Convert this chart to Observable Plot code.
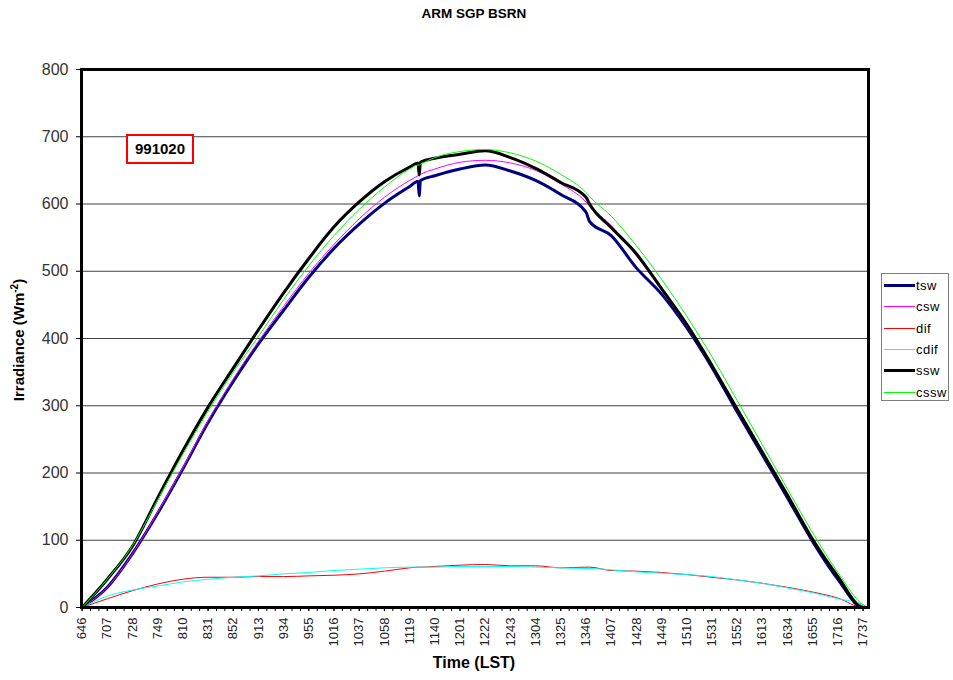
<!DOCTYPE html>
<html>
<head>
<meta charset="utf-8">
<script src="https://cdn.jsdelivr.net/npm/d3@7"></script>
<script src="https://cdn.jsdelivr.net/npm/@observablehq/plot@0.6"></script>
<style>
  html, body { margin: 0; padding: 0; background: #fff; }
  #wrap { position: relative; width: 953px; height: 680px; font-family: "Liberation Sans", Arial, sans-serif; }
  #chart svg { position: absolute; left: 0; top: 0; }
  .abs { position: absolute; }
  #title { left: 374px; width: 200px; top: 6px; text-align: center; font-weight: bold; font-size: 13.5px; color: #000; }
  #ylab { left: 18px; top: 340px; transform: translate(-50%, -50%) rotate(-90deg); white-space: nowrap; font-weight: bold; font-size: 15px; }
  #xlab { left: 474px; top: 654px; transform: translateX(-50%); white-space: nowrap; font-weight: bold; font-size: 16px; }
  #datebox { left: 126px; top: 134px; width: 64px; height: 26px; border: 2px solid #ff0000; background: #fff; font-weight: bold; font-size: 15px; line-height: 26px; text-align: center; }
  #legend { left: 881px; top: 273px; width: 68px; height: 128px; }
</style>
</head>
<body>
<div id="wrap">
  <div id="chart"></div>
  <div class="abs" id="title">ARM SGP BSRN</div>
  <div class="abs" id="ylab">Irradiance (Wm<sup style="font-size:10px">-2</sup>)</div>
  <div class="abs" id="xlab">Time (LST)</div>
  <div class="abs" id="datebox">991020</div>
  <div class="abs" id="legend"></div>
</div>
<script>
// Time (LST, hhmm) of each sample
const times = [646,707,728,749,810,831,852,913,934,955,1016,1037,1058,1119,1126,1127,1128,1140,1201,1222,1243,1304,1325,1346,1349,1407,1428,1449,1510,1531,1552,1613,1634,1655,1716,1737,1741];
// Category-axis tick labels
const tickLabels = [646,707,728,749,810,831,852,913,934,955,1016,1037,1058,1119,1140,1201,1222,1243,1304,1325,1346,1407,1428,1449,1510,1531,1552,1613,1634,1655,1716,1737];
const yTicks = [0,100,200,300,400,500,600,700,800];

// Series values (W m^-2)
const tsw  = [0,30,80,140,206,275,336,392,442,491,534,570,601,626,634,612,635,642,652,658,649,635,614,588,574,553,505,466,416,357,291,227,163,98,42,0,0];
const csw  = [0,30,80,142,208,278,340,396,448,497,540,578,610,635,642,643,644,652,662,665,661,650,630,603,597,568,523,472,418,360,297,233,168,103,45,2,0];
const dif  = [0,13,25,35,42,45,45,46,46,47,48,50,54,59,60,60,60,61,63,64,62,62,59,60,60,55,54,52,49,45,41,36,30,23,14,0,0];
const cdif = [0,17,26,32,38,42,45,47,50,52,55,57,59,60,60,60,60,60,61,61,61,60,59,58,58,56,53,51,49,46,41,36,29,22,13,4,0];
const ssw  = [0,42,91,163,233,298,356,413,468,519,566,603,633,655,661,643,662,668,674,679,669,653,632,610,600,565,526,474,421,360,295,231,167,101,46,0,0];
const cssw = [0,42,92,160,228,292,350,403,458,508,553,592,625,652,658,658,659,669,678,681,676,664,644,617,611,582,538,488,433,373,308,242,176,111,52,4,0];

const seriesNames = ["tsw","csw","dif","cdif","ssw","cssw"];
const seriesValues = [tsw, csw, dif, cdif, ssw, cssw];
const seriesColors = ["#000080","#ff00ff","#ff0000","#00ffff","#000000","#00ff00"];
const seriesWidths = [3, 1, 1, 1, 3, 1];

const toMin = t => Math.floor(t / 100) * 60 + (t % 100) - (6 * 60 + 46);
const labelMap = new Map(tickLabels.map(t => [toMin(t), String(t)]));

const lineMarks = seriesNames.map((name, k) => {
  const rows = times.map((t, i) => ({x: toMin(t), y: seriesValues[k][i]}));
  return Plot.line(rows, {x: "x", y: "y", stroke: seriesColors[k], strokeWidth: seriesWidths[k], strokeLinejoin: "round", curve: "monotone-x"});
});

const minorTicks = d3.range(0, 652, 7);

const chart = Plot.plot({
  width: 953,
  height: 680,
  marginLeft: 81,
  marginRight: 85,
  marginTop: 69,
  marginBottom: 73,
  style: {fontFamily: "'Liberation Sans', Arial, sans-serif", background: "transparent", overflow: "visible"},
  x: {domain: [-0.5, 655.5], axis: null},
  y: {domain: [0, 800], axis: null},
  marks: [
    Plot.gridY(yTicks, {stroke: "#404040", strokeOpacity: 1, strokeWidth: 1}),
    Plot.axisY(yTicks, {tickSize: 5, tickPadding: 8, fontSize: 16, fill: "#333", stroke: "#000", label: null}),
    Plot.axisX(minorTicks, {text: null, tickSize: 4, stroke: "#000", label: null}),
    Plot.axisX(tickLabels.map(toMin), {tickSize: 4, tickPadding: 6, tickRotate: -90, fontSize: 13, fill: "#222", stroke: "#000", tickFormat: d => labelMap.get(d), label: null}),
    ...lineMarks,
    Plot.frame({stroke: "#000", strokeWidth: 3})
  ]
});
document.getElementById("chart").appendChild(chart);

// Legend (small SVG built with d3)
const lg = d3.select("#legend").append("svg")
  .attr("width", 68).attr("height", 128)
  .style("position", "absolute").style("left", 0).style("top", 0)
  .style("font-family", "'Liberation Sans', Arial, sans-serif");
lg.append("rect").attr("x", 0.5).attr("y", 0.5).attr("width", 67).attr("height", 127)
  .attr("fill", "#fff").attr("stroke", "#808080");
seriesNames.forEach((name, k) => {
  const cy = Math.round(12 + k * 21.3) + 0.5;
  lg.append("line").attr("x1", 3).attr("x2", 34).attr("y1", cy).attr("y2", cy)
    .attr("stroke", seriesColors[k]).attr("stroke-width", seriesWidths[k]);
  lg.append("text").attr("x", 35).attr("y", cy + 4.5).attr("font-size", 13)
    .attr("letter-spacing", 0.5).attr("fill", "#000").text(name);
});
</script>
</body>
</html>
